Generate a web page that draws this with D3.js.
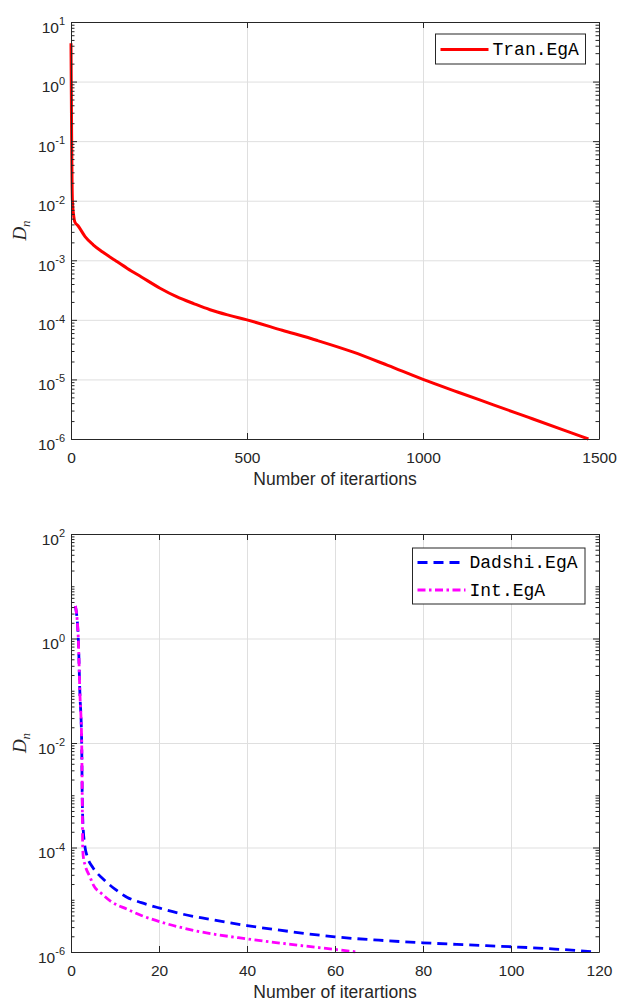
<!DOCTYPE html>
<html><head><meta charset="utf-8">
<script src="https://cdn.jsdelivr.net/npm/d3@7"></script>
<style>body{margin:0;background:#fff} svg{display:block}</style>
</head><body>
<svg id="c" width="617" height="1001"></svg>
<script>
// ---- data (top panel) ----
const tranIter = [0, 1, 2, 3, 4, 7, 11, 20, 40, 63, 90, 125, 160, 200, 253, 300, 350, 395, 450, 500, 600, 700, 800, 900, 1000, 1100, 1200, 1300, 1400, 1470];
const tranD    = [4.4, 0.6, 0.08, 0.02, 0.01, 0.006, 0.0044, 0.0038, 0.0025, 0.00182, 0.00138, 0.001, 0.00073, 0.000525, 0.00034, 0.000245, 0.000186, 0.000148, 0.000119, 1.0e-4, 6.7e-5, 4.5e-5, 2.9e-5, 1.72e-5, 1.0e-5, 6.1e-6, 3.75e-6, 2.3e-6, 1.41e-6, 1.0e-6];
// ---- data (bottom panel) ----
const dadIter = [1, 1.66, 2.0, 2.43, 2.55, 2.7, 3.2, 3.7, 5, 7.3, 10, 12.7, 16, 20.2, 25, 31, 40, 50, 60, 70, 80, 90, 100, 110, 119];
const dadD    = [4.2, 1, 0.1, 0.01, 1e-3, 3e-4, 1e-4, 6.7e-5, 4.1e-5, 2.5e-5, 1.6e-5, 1.12e-5, 8.8e-6, 6.9e-6, 5.4e-6, 4.3e-6, 3.2e-6, 2.45e-6, 1.95e-6, 1.68e-6, 1.5e-6, 1.37e-6, 1.26e-6, 1.14e-6, 1.0e-6];
const intIter = [1, 1.66, 2.0, 2.43, 2.55, 2.66, 2.8, 3.2, 4.3, 5.1, 7, 8.9, 12.7, 16, 20.2, 27.8, 40, 50, 60, 65];
const intD    = [4.2, 1, 0.1, 0.01, 1e-3, 1e-4, 6.6e-5, 4.6e-5, 2.75e-5, 1.9e-5, 1.3e-5, 9.5e-6, 6.6e-6, 5.0e-6, 3.8e-6, 2.6e-6, 1.78e-6, 1.4e-6, 1.12e-6, 1.0e-6];
// ---- ticks ----
const topXTicks = [0, 500, 1000, 1500];
const topYTicks = [1e-6, 1e-5, 1e-4, 1e-3, 1e-2, 1e-1, 1, 10];
const botXTicks = [0, 20, 40, 60, 80, 100, 120];
const botYTicks = [1e-6, 1e-4, 1e-2, 1, 100];
const xLabel = "Number of iterartions";

const svg = d3.select("#c");
const AX = "#262626";
const SANS = "Liberation Sans, Arial, sans-serif";

function minorTicks(domain, majors) {
  const out = [];
  const lo = Math.round(Math.log10(domain[0])), hi = Math.round(Math.log10(domain[1]));
  for (let e = lo; e < hi; e++) for (let m = 1; m <= 9; m++) {
    const v = m * Math.pow(10, e);
    if (!majors.some(t => Math.abs(t - v) / v < 1e-9)) out.push(v);
  }
  return out;
}

function panel(cfg) {
  const x = d3.scaleLinear().domain(cfg.xDomain).range([71, 599]);
  const y = d3.scaleLog().domain(cfg.yDomain).range([cfg.bottom, cfg.top]);
  const g = svg.append("g");
  const H = cfg.bottom - cfg.top, W = 599 - 71;

  // grid
  const gx = g.append("g").attr("transform", `translate(0,${cfg.bottom})`)
    .call(d3.axisBottom(x).tickValues(cfg.xTicks).tickSize(-H).tickFormat(""));
  const gy = g.append("g").attr("transform", `translate(71,0)`)
    .call(d3.axisLeft(y).tickValues(cfg.yTicks).tickSize(-W).tickFormat(""));
  [gx, gy].forEach(s => { s.select(".domain").remove(); s.selectAll("line").attr("stroke", "#dfdfdf").attr("stroke-width", 1); });

  // series
  cfg.series.forEach(s => {
    const pts = s.xs.map((v, i) => [v, s.ys[i]]);
    g.append("path").datum(pts)
      .attr("fill", "none").attr("stroke", s.color).attr("stroke-width", s.width)
      .attr("stroke-dasharray", s.dash || null).attr("stroke-linejoin", "round")
      .attr("d", d3.line().curve(d3.curveMonotoneX).x(d => x(d[0])).y(d => y(d[1])));
  });

  // axes
  const style = s => { s.selectAll(".domain").attr("stroke", AX).attr("stroke-width", 1);
    s.selectAll(".tick line").attr("stroke", AX); s.selectAll("text").attr("fill", AX)
      .attr("font-family", SANS).attr("font-size", 15.5); };
  const bx = g.append("g").attr("transform", `translate(0,${cfg.bottom})`)
    .call(d3.axisBottom(x).tickValues(cfg.xTicks).tickSize(-6).tickSizeOuter(0).tickPadding(13).tickFormat(d3.format("d")));
  style(bx);
  const tx = g.append("g").attr("transform", `translate(0,${cfg.top})`)
    .call(d3.axisTop(x).tickValues(cfg.xTicks).tickSize(-6).tickSizeOuter(0).tickFormat(""));
  style(tx);
  const minors = minorTicks(cfg.yDomain, cfg.yTicks);
  const ly = g.append("g").attr("transform", `translate(71,0)`)
    .call(d3.axisLeft(y).tickValues(cfg.yTicks).tickSize(-6).tickSizeOuter(0).tickPadding(6)
      .tickFormat(d => String(Math.round(Math.log10(d)))));
  style(ly);
  ly.selectAll(".tick text").each(function () {
    const t = d3.select(this); const e = t.text(); t.text(null).attr("dy", 10);
    t.append("tspan").text("10");
    t.append("tspan").attr("dy", -7.5).attr("font-size", 11).text(e);
  });
  const lm = g.append("g").attr("transform", `translate(71,0)`)
    .call(d3.axisLeft(y).tickValues(minors).tickSize(-3.5).tickSizeOuter(0).tickFormat(""));
  style(lm); lm.select(".domain").remove();
  const ry = g.append("g").attr("transform", `translate(599,0)`)
    .call(d3.axisRight(y).tickValues(cfg.yTicks).tickSize(-6).tickSizeOuter(0).tickFormat(""));
  style(ry);
  const rm = g.append("g").attr("transform", `translate(599,0)`)
    .call(d3.axisRight(y).tickValues(minors).tickSize(-3.5).tickSizeOuter(0).tickFormat(""));
  style(rm); rm.select(".domain").remove();

  // labels
  g.append("text").attr("x", 335).attr("y", cfg.bottom + 46).attr("text-anchor", "middle")
    .attr("font-family", SANS).attr("font-size", 17.5).attr("fill", AX).text(xLabel);
  const yl = g.append("text").attr("transform", `translate(26,${(cfg.top + cfg.bottom) / 2}) rotate(-90)`)
    .attr("text-anchor", "middle").attr("font-family", "Liberation Serif, Times New Roman, serif")
    .attr("fill", AX);
  yl.append("tspan").attr("font-style", "italic").attr("font-size", 19).text("D");
  yl.append("tspan").attr("font-style", "italic").attr("font-size", 13).attr("dy", 4).text("n");

  // legend
  const L = cfg.legend;
  g.append("rect").attr("x", L.x).attr("y", L.y).attr("width", L.w).attr("height", L.h)
    .attr("fill", "#fff").attr("stroke", AX).attr("stroke-width", 1);
  cfg.series.forEach((s, i) => {
    const cy = L.y + L.first + i * L.step;
    g.append("line").attr("x1", L.x + 5).attr("x2", L.x + 53).attr("y1", cy).attr("y2", cy)
      .attr("stroke", s.color).attr("stroke-width", s.width).attr("stroke-dasharray", s.dash || null);
    g.append("text").attr("x", L.x + 57).attr("y", cy + 5.5)
      .attr("font-family", "Liberation Mono, Courier New, monospace").attr("font-size", 18).attr("fill", "#000").text(s.name);
  });
}

panel({
  xDomain: [0, 1500], yDomain: [1e-6, 10], top: 22, bottom: 439,
  xTicks: topXTicks, yTicks: topYTicks,
  series: [{ name: "Tran.EgA", xs: tranIter, ys: tranD, color: "#ff0000", width: 3 }],
  legend: { x: 435.5, y: 34, w: 150, h: 30, first: 15.5, step: 0 }
});
panel({
  xDomain: [0, 120], yDomain: [1e-6, 100], top: 534, bottom: 952,
  xTicks: botXTicks, yTicks: botYTicks,
  series: [
    { name: "Dadshi.EgA", xs: dadIter, ys: dadD, color: "#0000ff", width: 2.8, dash: "10,6" },
    { name: "Int.EgA", xs: intIter, ys: intD, color: "#ff00ff", width: 2.8, dash: "8,3.5,2.5,3.5" }
  ],
  legend: { x: 412.5, y: 548, w: 172.5, h: 56, first: 14.5, step: 27.5 }
});
</script>
</body></html>
